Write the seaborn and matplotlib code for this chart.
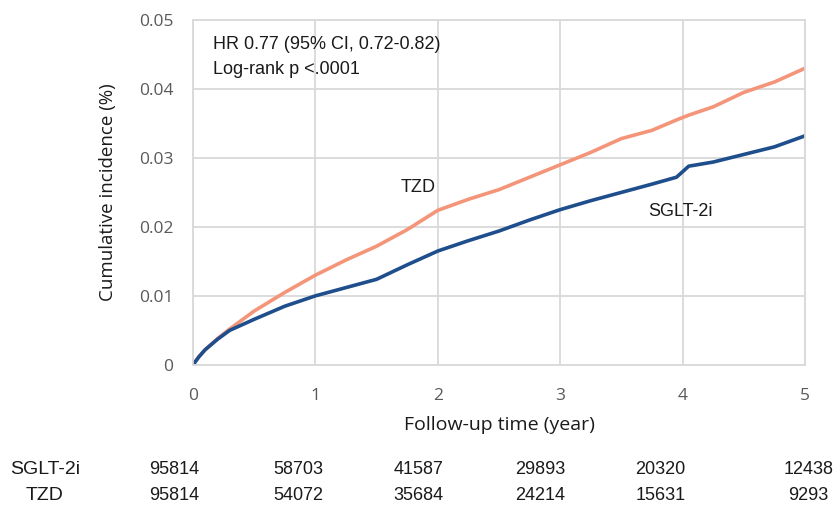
import matplotlib
matplotlib.use("Agg")
import matplotlib.pyplot as plt
import numpy as np
import pandas as pd
import seaborn as sb

# data
years = [0, 0.05, 0.1, 0.2, 0.3, 0.5, 0.75, 1.0, 1.25, 1.5, 1.75, 2.0, 2.25, 2.5, 2.75,
         3.0, 3.25, 3.5, 3.75, 3.95, 4.05, 4.25, 4.5, 4.75, 5.0]
tzd = [0, 0.0012, 0.0022, 0.0038, 0.0052, 0.0078, 0.0105, 0.0130, 0.0152, 0.0172, 0.0196,
       0.0224, 0.0240, 0.0254, 0.0272, 0.0290, 0.0308, 0.0328, 0.0340, 0.0355, 0.0362,
       0.0374, 0.0395, 0.0410, 0.0430]
sglt = [0, 0.0012, 0.0022, 0.0037, 0.0050, 0.0066, 0.0085, 0.0100, 0.0112, 0.0124, 0.0145,
        0.0165, 0.0180, 0.0194, 0.0210, 0.0225, 0.0238, 0.0250, 0.0262, 0.0272, 0.0288,
        0.0294, 0.0305, 0.0316, 0.0332]

time_ticks = [0, 1, 2, 3, 4, 5]
risk_sglt = [95814, 58703, 41587, 29893, 20320, 12438]
risk_tzd = [95814, 54072, 35684, 24214, 15631, 9293]

df = pd.DataFrame({
    "year": years * 2,
    "inc": tzd + sglt,
    "group": ["TZD"] * len(years) + ["SGLT-2i"] * len(years),
})

sb.set_style("white")
plt.rcParams["font.family"] = ["Liberation Sans", "DejaVu Sans"]
axfont = ["Open Sans", "DejaVu Sans"]

fig = plt.figure(figsize=(8.39, 5.11), dpi=100)
ax = fig.add_axes([0.230, 0.286, 0.7295, 0.675])

sb.lineplot(data=df, x="year", y="inc", hue="group",
            palette={"TZD": "#f4957a", "SGLT-2i": "#1f4e8c"},
            linewidth=2.6, legend=False, ax=ax)

ax.set_xlim(0, 5)
ax.set_ylim(0, 0.05)
ax.set_xticks(time_ticks)
ax.set_yticks([0, 0.01, 0.02, 0.03, 0.04, 0.05])
ax.set_yticklabels(["0", "0.01", "0.02", "0.03", "0.04", "0.05"])
ax.grid(True, color="#d9d9d9", linewidth=1.3)
for s in ax.spines.values():
    s.set_color("#d9d9d9")
    s.set_linewidth(1.3)
ax.tick_params(axis="both", length=0, labelsize=12.5, colors="#595959")
ax.tick_params(axis="y", pad=14)
ax.tick_params(axis="x", pad=17)
for lab in ax.get_xticklabels() + ax.get_yticklabels():
    lab.set_family(axfont)
ax.set_xlabel("Follow-up time (year)", fontsize=14, color="#1a1a1a", labelpad=8, family=axfont)
ax.set_ylabel("Cumulative incidence (%)", fontsize=13.5, color="#1a1a1a", labelpad=16, family=axfont)

ax.text(0.16, 0.0464, "HR 0.77 (95% CI, 0.72-0.82)", fontsize=13, va="center", color="#1a1a1a")
ax.text(0.16, 0.0428, "Log-rank p <.0001", fontsize=13, va="center", color="#1a1a1a")
ax.text(1.84, 0.0257, "TZD", fontsize=13, ha="center", va="center", color="#1a1a1a")
ax.text(3.98, 0.0222, "SGLT-2i", fontsize=13, ha="center", va="center", color="#1a1a1a")

# number at risk table
shift = [-0.15, -0.14, -0.16, -0.16, -0.18, 0.03]
for i, t in enumerate(time_ticks):
    xf = (193 + t * 122.4 + shift[i] * 122.4) / 839
    fig.text(xf, 1 - 469 / 511, str(risk_sglt[i]), fontsize=13, ha="center", va="center", color="#1a1a1a")
    fig.text(xf, 1 - 495 / 511, str(risk_tzd[i]), fontsize=13, ha="center", va="center", color="#1a1a1a")
fig.text(45 / 839, 1 - 469 / 511, "SGLT-2i", fontsize=14, ha="center", va="center", color="#1a1a1a")
fig.text(45 / 839, 1 - 495 / 511, "TZD", fontsize=14, ha="center", va="center", color="#1a1a1a")

fig.savefig("out.png", dpi=100)
